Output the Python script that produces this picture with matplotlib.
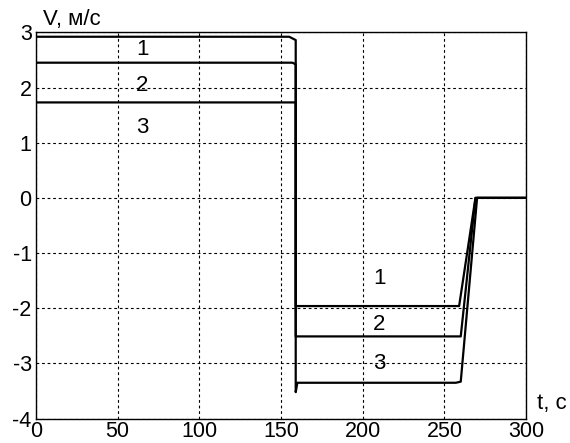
import numpy as np
import matplotlib
matplotlib.use("Agg")
import matplotlib.pyplot as plt

plt.rcParams['font.family'] = ['Liberation Sans', 'DejaVu Sans']
plt.rcParams['axes.unicode_minus'] = False

# breakpoints of the three speed curves
t1 = [0, 0, 155, 159, 159, 259, 269, 300]
v1 = [1.06, 2.92, 2.92, 2.86, -1.96, -1.96, 0, 0]

t2 = [0, 0, 157, 159, 159, 260, 269, 300]
v2 = [1.06, 2.45, 2.45, 2.42, -2.51, -2.51, 0, 0]

t3 = [0, 0, 159, 159, 160, 257, 260, 270, 300]
v3 = [1.06, 1.73, 1.73, -3.52, -3.35, -3.35, -3.33, 0, 0]

# curve number labels: (t, v, text)
labels_t = [65, 65, 65, 210, 210, 210]
labels_v = [2.69, 2.04, 1.28, -1.46, -2.29, -3.0]
labels_s = ["1", "2", "3", "1", "2", "3"]

xticks = [0, 50, 100, 150, 200, 250, 300]
yticks = [-4, -3, -2, -1, 0, 1, 2, 3]

fig = plt.figure(figsize=(5.7, 4.43), dpi=100)
ax = fig.add_axes([0.063, 0.055, 0.86, 0.872])

for t, v in [(t1, v1), (t2, v2), (t3, v3)]:
    ax.plot(t, v, color="black", lw=1.6)

for x, y, s in zip(labels_t, labels_v, labels_s):
    ax.text(x, y, s, fontsize=16, ha="center", va="center")

ax.set_xlim(0, 300)
ax.set_ylim(-4, 3)
ax.set_xticks(xticks)
ax.set_yticks(yticks)
ax.tick_params(direction="in", length=0, labelsize=15.5)
ax.tick_params(axis="x", pad=1.5)
ax.tick_params(axis="y", pad=3)
ax.grid(True, color="black", linestyle=(0, (2.5, 2.5)), lw=0.8)
for sp in ax.spines.values():
    sp.set_linewidth(1.0)

fig.text(0.075, 0.955, "V, м/с", fontsize=16, ha="left", va="center")
fig.text(0.995, 0.09, "t, c", fontsize=16, ha="right", va="center")

fig.savefig("out.png", dpi=100)
